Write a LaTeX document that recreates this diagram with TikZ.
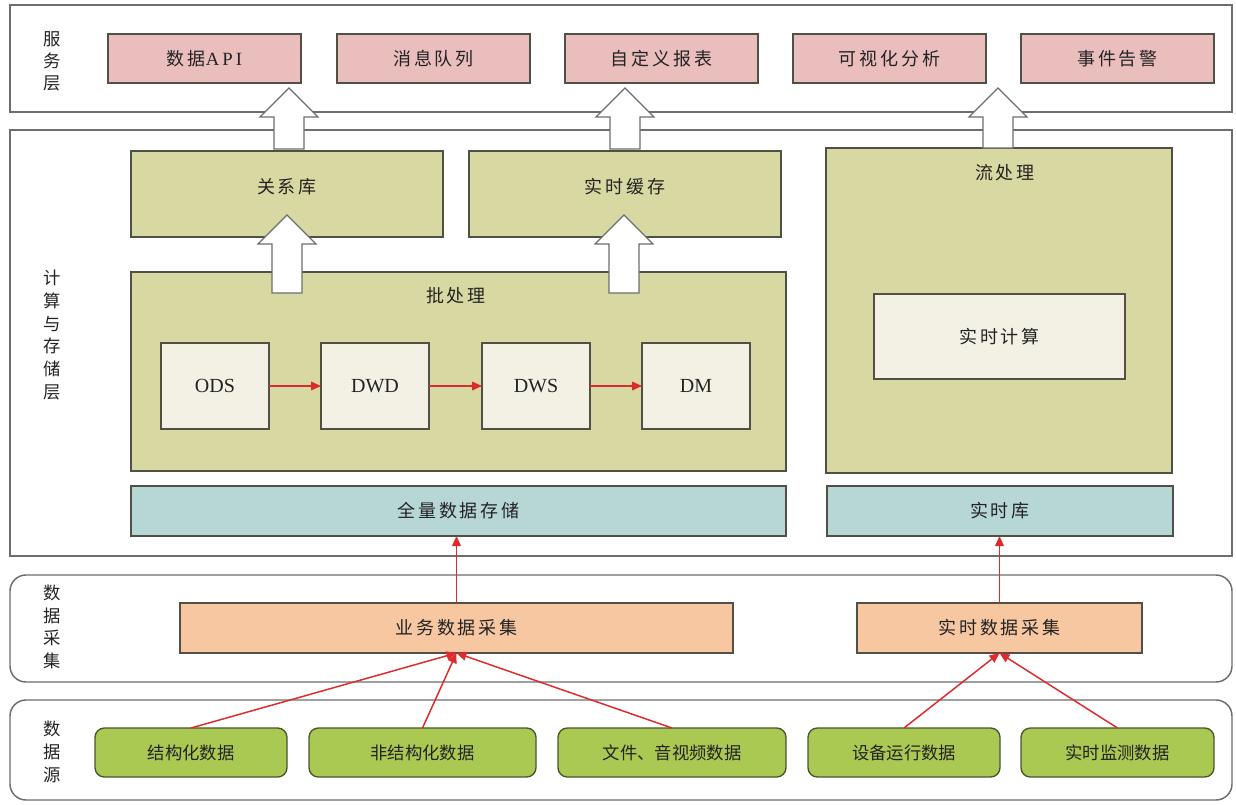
\documentclass[tikz,border=0pt]{standalone}
\usepackage{fontspec}
\setmainfont{Liberation Serif}
\newfontfamily\cjk{Noto Sans CJK SC}
\newfontfamily\cjksp[LetterSpace=16]{Noto Sans CJK SC}
\usetikzlibrary{calc,arrows.meta}
\definecolor{layerline}{RGB}{110,110,110}
\definecolor{boxline}{RGB}{80,80,70}
\definecolor{pinkfill}{RGB}{233,190,189}
\definecolor{olivefill}{RGB}{216,217,162}
\definecolor{creamfill}{RGB}{242,241,227}
\definecolor{tealfill}{RGB}{183,214,214}
\definecolor{orangefill}{RGB}{247,199,162}
\definecolor{greenfill}{RGB}{170,201,82}
\definecolor{greenline}{RGB}{75,85,45}
\definecolor{arrowred}{RGB}{222,42,42}
\definecolor{txt}{RGB}{35,35,35}
\newcommand{\hollowarrow}[2]{%
  \draw[hollow] let \p1=(#1), \p2=(#2) in
    (\x1-11.25pt,\y1) -- (\x1-11.25pt,\y2-21.75pt) -- (\x1-21.75pt,\y2-21.75pt)
    -- (\x1,\y2) -- (\x1+21.75pt,\y2-21.75pt) -- (\x1+11.25pt,\y2-21.75pt)
    -- (\x1+11.25pt,\y1) -- cycle;}
\begin{document}
\begin{tikzpicture}[x=0.75pt,y=-0.75pt,
  every node/.style={inner sep=0pt, outer sep=0pt, text=txt},
  sz/.style 2 args={minimum width=#1*0.75pt, minimum height=#2*0.75pt},
  layer/.style={draw=layerline, fill=white, line width=1.1pt, anchor=north west},
  rlayer/.style={layer, rounded corners=12pt},
  boxbase/.style={draw=boxline, line width=1pt, rectangle},
  svcbox/.style={boxbase, fill=pinkfill, sz={193}{49}, font={\fontsize{13.5}{16}\selectfont\cjksp}},
  olivebox/.style={boxbase, fill=olivefill},
  creambox/.style={boxbase, fill=creamfill},
  stepbox/.style={creambox, sz={108}{86}, font={\fontsize{15}{17}\selectfont}},
  tealbox/.style={boxbase, fill=tealfill, font={\fontsize{13.5}{16}\selectfont\cjksp}},
  orangebox/.style={boxbase, fill=orangefill, font={\fontsize{13.5}{16}\selectfont\cjksp}},
  srcbox/.style={draw=greenline, line width=1pt, fill=greenfill, rounded corners=7pt, font={\fontsize{13}{16}\selectfont\cjk}},
  lbl/.style={font={\fontsize{13.5}{16}\selectfont\cjksp}},
  vlabel/.style={align=center, font={\fontsize{13}{17}\selectfont\cjk}},
  redarrow/.style={draw=arrowred, line width=1.1pt, -{Triangle[length=7.5pt,width=6.5pt]}, fill=arrowred},
  hollow/.style={draw=layerline, fill=white, line width=0.9pt, line join=miter}]
\path[fill=white] (0,0) rectangle (1236,804);
\useasboundingbox (0,0) rectangle (1236,804);
% layers
\node[layer, sz={1222}{107}] (svc) at (10,5) {};
\node[layer, sz={1222}{426}] (comp) at (10,130) {};
\node[rlayer, sz={1222}{107}] (coll) at (10,575) {};
\node[rlayer, sz={1222}{100}] (srcl) at (10,700) {};
% layer labels
\node[vlabel, font={\fontsize{13}{16.5}\selectfont\cjk}] (lsvc) at (52,61) {服\\务\\层};
\node[vlabel] (lcomp) at (52,335) {计\\算\\与\\存\\储\\层};
\node[vlabel] (lcoll) at (52,627) {数\\据\\采\\集};
\node[vlabel] (lsrc) at (52,752) {数\\据\\源};
% service boxes
\node[svcbox] (api) at (204.5,58.5) {数据{\fontsize{14}{16}\selectfont\rmfamily A\,P\,I}};
\node[svcbox] (mq) at (433.5,58.5) {消息队列};
\node[svcbox] (tab) at (661.5,58.5) {自定义报表};
\node[svcbox] (vis) at (889.5,58.5) {可视化分析};
\node[svcbox] (alarm) at (1117.5,58.5) {事件告警};
% compute & storage
\node[olivebox, sz={312}{86}] (rel) at (287,194) {};
\node[lbl] (reltxt) at (287,187) {关系库};
\node[olivebox, sz={312}{86}] (rtc) at (625,194) {};
\node[lbl] (rtctxt) at (625,187) {实时缓存};
\node[olivebox, sz={655}{199}] (batch) at (458.5,371.5) {};
\node[lbl] (batchtxt) at (456,296) {批处理};
\node[stepbox] (ods) at (215,386) {ODS};
\node[stepbox] (dwd) at (375,386) {DWD};
\node[stepbox] (dws) at (536,386) {DWS};
\node[stepbox] (dm) at (696,386) {DM};
\node[olivebox, sz={346}{325}] (stream) at (999,310.5) {};
\node[lbl] (streamtxt) at (1005,173) {流处理};
\node[creambox, sz={251}{85}, lbl] (rtcalc) at (999.5,336.5) {实时计算};
\node[tealbox, sz={655}{50}] (full) at (458.5,511) {全量数据存储};
\node[tealbox, sz={346}{50}] (rtlib) at (1000,511) {实时库};
% collection
\node[orangebox, sz={553}{50}] (bizc) at (456.5,628) {业务数据采集};
\node[orangebox, sz={285}{50}] (rtcol) at (999.5,628) {实时数据采集};
% sources
\node[srcbox, sz={192}{49}] (s1) at (191,752.5) {结构化数据};
\node[srcbox, sz={227}{49}] (s2) at (422.5,752.5) {非结构化数据};
\node[srcbox, sz={228}{49}] (s3) at (672,752.5) {文件、音视频数据};
\node[srcbox, sz={192}{49}] (s4) at (904,752.5) {设备运行数据};
\node[srcbox, sz={193}{49}] (s5) at (1117.5,752.5) {实时监测数据};
% red arrows
\draw[redarrow] (ods) -- (dwd);
\draw[redarrow] (dwd) -- (dws);
\draw[redarrow] (dws) -- (dm);
\draw[redarrow] (bizc.north) -- (bizc.north |- full.south);
\draw[redarrow] (rtcol.north) -- (rtcol.north |- rtlib.south);
\draw[redarrow] (s1.north) -- (bizc.south);
\draw[redarrow] (s2.north) -- (bizc.south);
\draw[redarrow] (s3.north) -- (bizc.south);
\draw[redarrow] (s4.north) -- (rtcol.south);
\draw[redarrow] (s5.north) -- (rtcol.south);
% hollow arrows
\hollowarrow{$(rel.north)+(2,-2)$}{$(api.south -| rel.north)+(2,5)$}
\hollowarrow{$(batch.north -| rel.north)+(0,21)$}{$(rel.south)+(0,-22)$}
\hollowarrow{$(batch.north -| rtc.north)+(-1,21)$}{$(rtc.south)+(-1,-22)$}
\hollowarrow{$(rtc.north)+(0,-2)$}{$(tab.south -| rtc.north)+(0,5)$}
\hollowarrow{$(stream.north)+(-1,0)$}{$(alarm.south -| stream.north)+(-1,5)$}
\end{tikzpicture}
\end{document}
